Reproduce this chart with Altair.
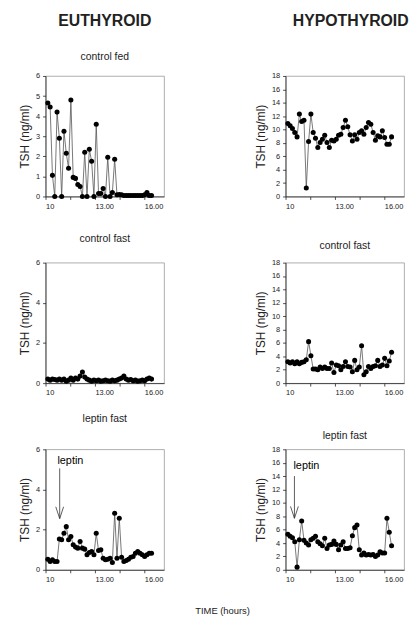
import altair as alt
import pandas as pd

# sample times (hours)
HOURS = [10.14, 10.28, 10.42, 10.56, 10.70, 10.84, 10.98, 11.12, 11.26, 11.40,
         11.54, 11.68, 11.82, 11.96, 12.10, 12.24, 12.38, 12.52, 12.66, 12.80,
         12.94, 13.08, 13.22, 13.36, 13.50, 13.64, 13.78, 13.92, 14.06, 14.20,
         14.34, 14.48, 14.62, 14.76, 14.90, 15.04, 15.18, 15.32, 15.46, 15.60,
         15.74, 15.88, 16.02, 16.16, 16.30, 16.44]

# TSH (ng/ml)
EU_CONTROL_FED = [4.65, 4.45, 1.05, 0.0, 4.2, 2.9, 0.0, 3.25, 2.15, 1.4,
                  4.8, 0.95, 0.9, 0.6, 0.5, 0.0, 2.2, 0.0, 2.35, 1.75,
                  0.0, 3.6, 0.15, 0.15, 0.4, 0.0, 1.95, 0.0, 0.2, 1.85,
                  0.08, 0.1, 0.08, 0.05, 0.05, 0.05, 0.05, 0.05, 0.05, 0.05,
                  0.05, 0.05, 0.08, 0.2, 0.05, 0.05]
EU_CONTROL_FAST = [0.2, 0.15, 0.2, 0.18, 0.15, 0.2, 0.15, 0.2, 0.1, 0.15,
                   0.25, 0.15, 0.25, 0.2, 0.35, 0.55, 0.3, 0.2, 0.15, 0.1,
                   0.15, 0.12, 0.15, 0.1, 0.12, 0.15, 0.12, 0.1, 0.15, 0.12,
                   0.15, 0.2, 0.25, 0.35, 0.2, 0.15, 0.18, 0.12, 0.15, 0.1,
                   0.12, 0.15, 0.12, 0.2, 0.25, 0.2]
EU_LEPTIN_FAST = [0.53, 0.41, 0.5, 0.41, 0.41, 1.53, 1.5, 1.82, 2.15, 1.5,
                  1.66, 1.25, 1.13, 1.08, 1.41, 1.08, 1.03, 0.75, 0.86, 0.91,
                  0.75, 1.82, 0.96, 1.0, 0.58, 0.5, 0.53, 0.58, 0.36, 2.82,
                  0.58, 2.57, 0.63, 0.41, 0.46, 0.53, 0.63, 0.66, 0.83, 0.91,
                  0.83, 0.75, 0.66, 0.75, 0.83, 0.83]
HY_CONTROL_FED = [10.9, 10.55, 10.15, 9.55, 8.9, 12.3, 11.2, 11.4, 1.25, 8.2,
                  12.3, 9.55, 8.7, 7.3, 8.05, 8.55, 9.15, 8.05, 7.3, 8.4,
                  8.3, 8.55, 9.15, 9.3, 10.3, 11.4, 10.4, 9.2, 8.3, 9.2,
                  8.55, 9.55, 9.8, 9.3, 10.3, 11.05, 10.8, 9.55, 8.4, 9.05,
                  8.9, 9.8, 8.8, 7.8, 7.8, 8.9]
HY_CONTROL_FAST = [3.2, 3.0, 3.2, 2.9, 3.2, 2.9, 3.1, 3.2, 3.5, 6.2,
                   4.1, 2.1, 2.1, 2.0, 2.4, 2.2, 2.4, 2.2, 2.2, 3.0,
                   1.6, 2.7, 2.6, 2.0, 2.5, 3.2, 2.5, 2.4, 1.7, 3.4,
                   2.0, 2.4, 5.6, 1.25, 1.7, 2.5, 2.2, 2.5, 2.6, 3.4,
                   2.5, 2.7, 3.7, 2.6, 3.3, 4.6]
HY_LEPTIN_FAST = [5.3, 5.0, 4.8, 4.2, 0.4, 4.5, 7.3, 4.4, 4.0, 3.7,
                  4.5, 4.7, 5.0, 4.2, 3.9, 3.6, 4.7, 3.2, 3.7, 3.8,
                  4.3, 3.8, 3.0, 3.7, 4.2, 3.2, 3.2, 3.3, 5.1, 6.3,
                  6.7, 3.0, 2.2, 2.5, 2.2, 2.3, 2.2, 2.3, 2.0, 2.2,
                  2.7, 2.5, 2.5, 7.7, 5.6, 3.6]

X_DOMAIN = [10, 17.2]
X_TICKS = [10, 11.5, 13, 14.5, 16]

# leptin injection annotation: time, arrow top, arrow tip, label time, label value
EU_ARROW = {"t": 10.86, "top": 5.05, "tip": 2.55, "lt": 10.72, "lv": 5.25}
HY_ARROW = {"t": 10.54, "top": 14.0, "tip": 7.7, "lt": 10.48, "lv": 15.0}

FONT = "Liberation Sans"
W, H = 120, 122


def xenc(field):
    return alt.X(field, title=None,
                 scale=alt.Scale(domain=X_DOMAIN, nice=False, zero=False),
                 axis=alt.Axis(values=X_TICKS, labelAlign="left",
                               labelExpr="datum.value == 10 ? '10' : datum.value == 13 ? '13.00' : datum.value == 16 ? '16.00' : ''"))


def yenc(field, ymax, ystep):
    return alt.Y(field, title="TSH (ng/ml)",
                 scale=alt.Scale(domain=[0, ymax], nice=False),
                 axis=alt.Axis(values=list(range(0, ymax + 1, ystep))))


def panel(values, ymax, ystep):
    df = pd.DataFrame({"t": HOURS, "tsh": values})
    x = xenc("t:Q")
    y = yenc("tsh:Q", ymax, ystep)
    base = alt.Chart(df)
    line = base.mark_line(color="#555555", strokeWidth=0.8).encode(x=x, y=y)
    pts = base.mark_circle(size=26, color="black", opacity=1).encode(x=x, y=y)
    return [line, pts]


def arrow_layers(a, ymax, ystep):
    d = pd.DataFrame([a])
    d["label"] = "leptin"
    base = alt.Chart(d)
    shaft = base.mark_rule(color="#333333", strokeWidth=0.8).encode(
        x=xenc("t:Q"), y=yenc("top:Q", ymax, ystep), y2="tip:Q")
    head = base.mark_point(shape="M-0.33,-1L0,0L0.33,-1", size=576, filled=False,
                           color="#333333", strokeWidth=0.8, opacity=1).encode(
        x=xenc("t:Q"), y=yenc("tip:Q", ymax, ystep))
    txt = base.mark_text(align="left", baseline="alphabetic", fontSize=11,
                         font=FONT, color="black").encode(
        x=xenc("lt:Q"), y=yenc("lv:Q", ymax, ystep), text="label:N")
    return [shaft, head, txt]


def small_title(text, offset):
    return alt.TitleParams(text=text, fontSize=10.5, font=FONT, fontWeight="normal",
                           color="#222222", offset=offset, anchor="middle", frame="group")


tl = alt.layer(*panel(EU_CONTROL_FED, 6, 1)).properties(
    width=W, height=H,
    title=alt.TitleParams(text="EUTHYROID", subtitle="control fed", fontSize=16,
                          font=FONT, fontWeight="bold", color="#222222",
                          subtitleFont=FONT, subtitleFontSize=10.5, subtitleColor="#222222",
                          subtitlePadding=23, offset=10, anchor="middle", frame="group"))
tr = alt.layer(*panel(HY_CONTROL_FED, 18, 2)).properties(
    width=W, height=H,
    title=alt.TitleParams(text="HYPOTHYROID", fontSize=16, font=FONT, fontWeight="bold",
                          color="#222222", offset=44, dx=6, anchor="middle", frame="group"))
ml = alt.layer(*panel(EU_CONTROL_FAST, 6, 2)).properties(
    width=W, height=H, title=small_title("control fast", 14))
mr = alt.layer(*panel(HY_CONTROL_FAST, 18, 2)).properties(
    width=W, height=H, title=small_title("control fast", 7))
bl = alt.layer(*(panel(EU_LEPTIN_FAST, 6, 2) + arrow_layers(EU_ARROW, 6, 2))).properties(
    width=W, height=H, title=small_title("leptin fast", 21))
br = alt.layer(*(panel(HY_LEPTIN_FAST, 18, 2) + arrow_layers(HY_ARROW, 18, 2))).properties(
    width=W, height=H, title=small_title("leptin fast", 4))

chart = alt.concat(tl, tr, ml, mr, bl, br, columns=2, bounds="flush",
                   spacing={"row": 67, "column": 123}).properties(
    title=alt.TitleParams(text="TIME (hours)", orient="bottom", anchor="middle",
                          fontSize=9.5, font=FONT, fontWeight="normal", color="#222222",
                          offset=23, dx=9),
    padding={"left": 10, "top": 0, "right": 0, "bottom": 0},
).configure_view(stroke="#999999", strokeWidth=0.8).configure_axis(
    grid=False, domainColor="#222222", tickColor="#222222", tickSize=3,
    labelFont=FONT, labelFontSize=7.5, labelColor="#222222", labelPadding=3,
    titleFont=FONT, titleFontSize=12, titleFontWeight="normal", titleColor="#222222",
    domainWidth=0.8, tickWidth=0.8,
)

chart.save("out.html", embed_options={"renderer": "svg", "actions": False})
